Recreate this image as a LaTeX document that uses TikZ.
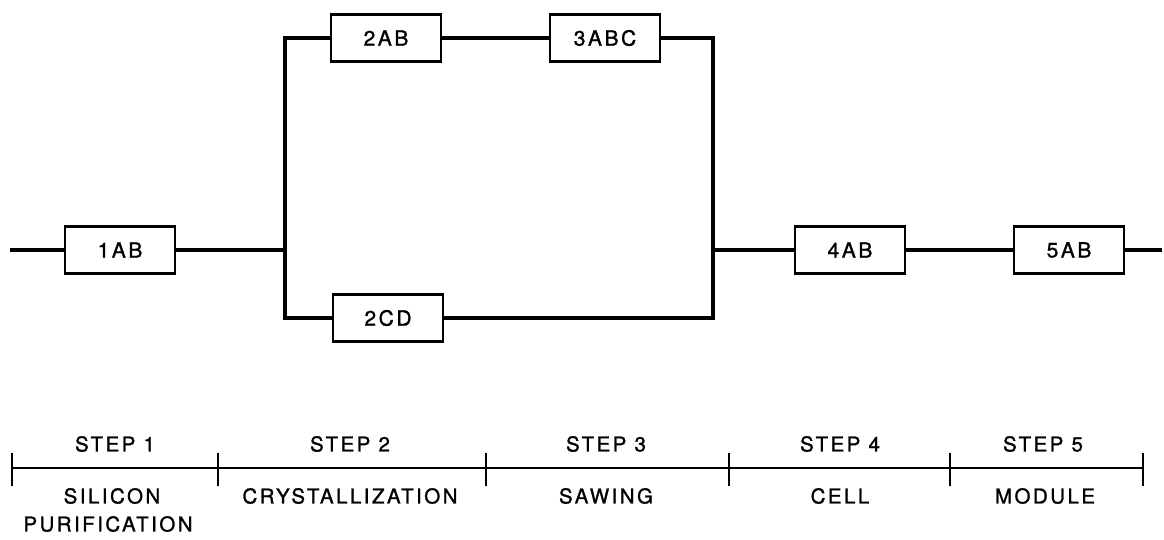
\documentclass[tikz,border=0pt]{standalone}
\usepackage{fontspec}
\setmainfont{TeX Gyre Heros}[LetterSpace=12,FakeBold=1.2]
\begin{document}
\begin{tikzpicture}[x=1pt,y=-1pt,
  blk/.style={draw,line width=2.2pt,minimum width=110pt,minimum height=47pt,inner sep=0pt,font=\fontsize{21}{24}\selectfont},
  wire/.style={line width=4pt,line join=miter},
  tl/.style={line width=2.8pt},
  lbl/.style={font=\fontsize{20.5}{24}\selectfont,inner sep=0pt,align=center}]
\useasboundingbox (0,0) rectangle (1164,539);
\node[blk] (b1) at (120,250) {1AB};
\node[blk] (b2ab) at (386,38) {2AB};
\node[blk] (b3) at (605,38) {3ABC};
\node[blk] (b2cd) at (388,318) {2CD};
\node[blk] (b4) at (850,250) {4AB};
\node[blk] (b5) at (1069,250) {5AB};
\coordinate (s) at (10,250);
\coordinate (e) at (1162,250);
\coordinate (jl) at (285,250);
\coordinate (lt) at (285,38);
\coordinate (lb) at (285,318);
\coordinate (jr) at (713,250);
\coordinate (rt) at (713,38);
\coordinate (rb) at (713,318);
\draw[wire] (s) -- (b1.west);
\draw[wire] (b1.east) -- (jl);
\draw[wire] (b2ab.west) -- (lt) -- (lb) -- (b2cd.west);
\draw[wire] (b2ab.east) -- (b3.west);
\draw[wire] (b3.east) -- (rt) -- (rb) -- (b2cd.east);
\draw[wire] (jr) -- (b4.west);
\draw[wire] (b4.east) -- (b5.west);
\draw[wire] (b5.east) -- (e);
% timeline
\coordinate (t0) at (12,468);
\coordinate (t5) at (1143,468);
\draw[tl] (t0) -- (t5);
\foreach \x in {12,218,486,729,950,1143} {
  \draw[tl] (\x,453) -- (\x,486);
}
\node[lbl] (s1) at (115,444) {STEP 1};
\node[lbl] (s2) at (350,444) {STEP 2};
\node[lbl] (s3) at (606,444) {STEP 3};
\node[lbl] (s4) at (840,444) {STEP 4};
\node[lbl] (s5) at (1043,444) {STEP 5};
\node[lbl] (n1) at (112,496) {SILICON};
\node[lbl] (n1b) at (108,524) {PURIFICATION};
\node[lbl] (n2) at (350,496) {CRYSTALLIZATION};
\node[lbl] (n3) at (606,496) {SAWING};
\node[lbl] (n4) at (840,496) {CELL};
\node[lbl] (n5) at (1045,496) {MODULE};
\end{tikzpicture}
\end{document}
